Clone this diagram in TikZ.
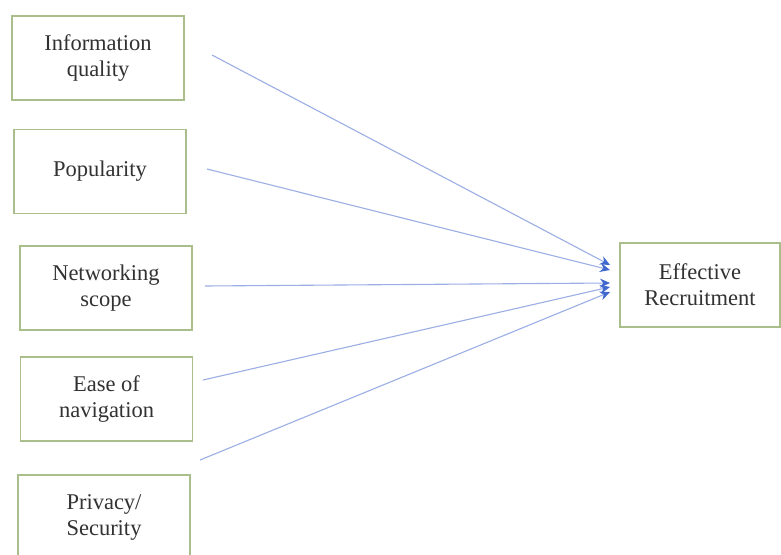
\documentclass[tikz,border=0pt]{standalone}
\usepackage{fontspec}
\setmainfont{Liberation Serif}
\usetikzlibrary{arrows.meta}
\definecolor{boxgreen}{RGB}{170,190,140}
\definecolor{linkblue}{RGB}{155,175,228}
\definecolor{tipblue}{RGB}{65,105,205}
\definecolor{txtgray}{RGB}{50,50,50}
\begin{document}
\begin{tikzpicture}[x=1pt,y=-1pt,
  factor/.style={draw=boxgreen,line width=1.6pt,minimum width=172pt,minimum height=84pt,
    align=center,text=txtgray,font=\fontsize{22.5}{26}\selectfont,inner sep=0pt},
  link/.style={draw=linkblue,line width=1.1pt,
    -{Stealth[length=10pt,width=9pt,color=tipblue]}}]
\useasboundingbox (0,0) rectangle (781,554);
\fill[white] (0,0) rectangle (781,554);
\node[factor] (b1) at (98,58) {Information\\quality};
\node[factor] (b2) at (100,171.5) {Popularity};
\node[factor] (b3) at (106,288) {Networking\\scope};
\node[factor] (b4) at (106.5,399) {Ease of\\navigation};
\node[factor] (b5) at (104,517) {Privacy/\\Security};
\node[factor,minimum width=160pt] (er) at (700,285) {Effective\\Recruitment};
\coordinate (s1) at (212,55);
\coordinate (s2) at (207,169);
\coordinate (s3) at (205,286);
\coordinate (s4) at (203,380);
\coordinate (s5) at (200,460);
\coordinate (e1) at (610,265);
\coordinate (e2) at (610,270);
\coordinate (e3) at (610,283);
\coordinate (e4) at (610,287);
\coordinate (e5) at (610,292);
\draw[link] (s1) -- (e1);
\draw[link] (s2) -- (e2);
\draw[link] (s3) -- (e3);
\draw[link] (s4) -- (e4);
\draw[link] (s5) -- (e5);
\end{tikzpicture}
\end{document}
